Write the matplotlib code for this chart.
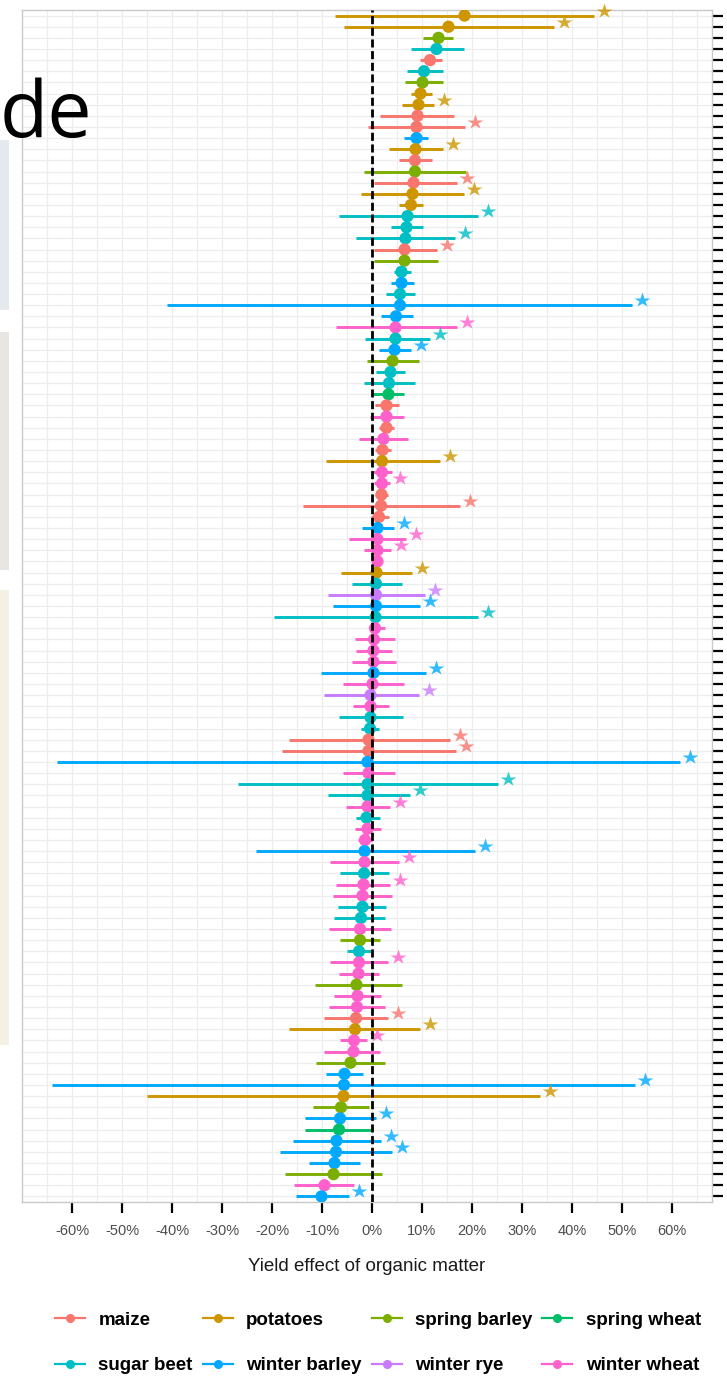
import matplotlib
matplotlib.use("Agg")
import matplotlib.pyplot as plt
from matplotlib.lines import Line2D
from matplotlib.patches import Rectangle
from matplotlib.transforms import offset_copy

plt.rcParams["font.family"] = ["Liberation Sans", "DejaVu Sans"]

# ---- data -------------------------------------------------------------
crops = ["maize", "potatoes", "spring barley", "spring wheat",
         "sugar beet", "winter barley", "winter rye", "winter wheat"]
crop_colors = ["#F8766D", "#CD9600", "#7CAE00", "#00BE67",
               "#00BFC4", "#00A9FF", "#C77CFF", "#FF61CC"]

# one entry per study, ordered from the largest to the smallest effect (%)
row_crop = [
    "potatoes", "potatoes", "spring barley", "sugar beet", "maize",
    "sugar beet", "spring barley", "potatoes", "potatoes", "maize",
    "maize", "winter barley", "potatoes", "maize", "spring barley",
    "maize", "potatoes", "potatoes", "sugar beet", "sugar beet",
    "sugar beet", "maize", "spring barley", "sugar beet", "winter barley",
    "sugar beet", "winter barley", "winter barley", "winter wheat", "sugar beet",
    "winter barley", "spring barley", "sugar beet", "sugar beet", "spring wheat",
    "maize", "winter wheat", "maize", "winter wheat", "maize",
    "potatoes", "winter wheat", "winter wheat", "maize", "maize",
    "maize", "winter barley", "winter wheat", "winter wheat", "winter wheat",
    "potatoes", "sugar beet", "winter rye", "winter barley", "sugar beet",
    "winter wheat", "winter wheat", "winter wheat", "winter wheat", "winter barley",
    "winter wheat", "winter rye", "winter wheat", "sugar beet", "sugar beet",
    "maize", "maize", "winter barley", "winter wheat", "sugar beet",
    "sugar beet", "winter wheat", "sugar beet", "winter wheat", "winter wheat",
    "winter barley", "winter wheat", "sugar beet", "winter wheat", "winter wheat",
    "sugar beet", "sugar beet", "winter wheat", "spring barley", "sugar beet",
    "winter wheat", "winter wheat", "spring barley", "winter wheat", "winter wheat",
    "maize", "potatoes", "winter wheat", "winter wheat", "spring barley",
    "winter barley", "winter barley", "potatoes", "spring barley", "winter barley",
    "spring wheat", "winter barley", "winter barley", "winter barley", "spring barley",
    "winter wheat", "winter barley",
]
effect = [
    18.5, 15.3, 13.3, 12.9, 11.6, 10.4, 10.1, 9.7, 9.3, 9.1,
    8.9, 8.9, 8.7, 8.6, 8.6, 8.3, 8.1, 7.8, 7.1, 6.9,
    6.7, 6.5, 6.5, 5.9, 5.9, 5.6, 5.6, 4.8, 4.7, 4.7,
    4.5, 4.1, 3.7, 3.4, 3.3, 2.9, 2.9, 2.9, 2.3, 2.1,
    2.0, 2.0, 2.0, 1.9, 1.8, 1.4, 1.1, 1.1, 1.1, 1.1,
    0.9, 0.8, 0.8, 0.8, 0.7, 0.6, 0.4, 0.3, 0.3, 0.3,
    0.1, -0.3, -0.3, -0.3, -0.4, -0.7, -0.7, -0.9, -0.7, -0.9,
    -0.9, -0.9, -1.1, -0.9, -1.4, -1.5, -1.5, -1.6, -1.7, -1.9,
    -1.9, -2.2, -2.4, -2.4, -2.6, -2.6, -2.7, -3.1, -2.9, -3.0,
    -3.2, -3.4, -3.6, -3.7, -4.3, -5.5, -5.6, -5.7, -6.2, -6.4,
    -6.6, -7.1, -7.2, -7.5, -7.7, -9.5, -10.1,
]
ci_low = [
    -7.4, -5.7, 10.1, 7.8, 9.5, 6.9, 6.6, 7.8, 5.9, 1.6,
    -0.9, 6.4, 3.3, 5.3, -1.7, 0.3, -2.3, 5.3, -6.7, 3.7,
    -3.3, 0.3, 0.3, 4.3, 3.8, 2.8, -41.0, 1.8, -7.2, -1.4,
    1.3, -1.1, 0.8, -1.7, 0.1, 0.5, -0.4, 1.3, -2.6, 0.6,
    -9.2, -0.1, 0.3, 0.6, -13.9, -0.2, -2.1, -4.7, -1.6, 0.3,
    -6.2, -4.1, -8.9, -7.9, -19.7, -0.3, -3.4, -3.2, -4.0, -10.3,
    -5.9, -9.6, -3.9, -6.7, -2.2, -16.6, -18.1, -63.0, -5.9, -26.8,
    -8.9, -5.2, -3.3, -3.5, -2.9, -23.2, -8.4, -6.4, -7.3, -7.9,
    -6.9, -7.6, -8.7, -6.4, -5.1, -8.4, -6.7, -11.5, -7.7, -8.6,
    -9.6, -16.7, -6.5, -9.6, -11.2, -9.2, -64.0, -45.0, -11.9, -13.4,
    -13.4, -15.9, -18.4, -12.7, -17.5, -15.7, -15.3,
]
ci_high = [
    44.3, 36.3, 16.1, 18.3, 13.9, 14.1, 14.1, 11.9, 12.3, 16.4,
    18.6, 11.1, 14.1, 11.9, 18.8, 16.9, 18.4, 10.1, 21.1, 10.1,
    16.6, 12.9, 13.1, 7.8, 8.3, 8.5, 51.9, 8.1, 16.9, 11.5,
    7.7, 9.3, 6.6, 8.6, 6.4, 5.4, 6.4, 4.4, 7.1, 3.7,
    13.5, 3.9, 3.6, 3.2, 17.6, 3.3, 4.4, 6.8, 3.7, 1.9,
    7.9, 5.9, 10.6, 9.6, 21.1, 2.6, 4.5, 3.9, 4.7, 10.8,
    6.4, 9.3, 3.3, 6.1, 1.3, 15.5, 16.8, 61.6, 4.5, 25.1,
    7.5, 3.6, 1.5, 1.8, -0.1, 20.5, 5.4, 3.3, 3.6, 3.9,
    2.8, 2.6, 3.7, 1.5, -0.3, 3.1, 1.3, 5.9, 1.7, 2.6,
    3.1, 9.6, -1.1, 1.6, 2.6, -1.9, 52.6, 33.5, -0.7, 0.8,
    0.1, 1.7, 3.9, -2.4, 1.9, -3.7, -4.7,
]
significant = [
    1, 1, 0, 0, 0, 0, 0, 0, 1, 0,
    1, 0, 1, 0, 0, 1, 1, 0, 1, 0,
    1, 1, 0, 0, 0, 0, 1, 0, 1, 1,
    1, 0, 0, 0, 0, 0, 0, 0, 0, 0,
    1, 0, 1, 0, 1, 0, 1, 1, 1, 0,
    1, 0, 1, 1, 1, 0, 0, 0, 0, 1,
    0, 1, 0, 0, 0, 1, 1, 1, 0, 1,
    1, 1, 0, 0, 0, 1, 1, 0, 1, 0,
    0, 0, 0, 0, 0, 1, 0, 0, 0, 0,
    1, 1, 1, 0, 0, 0, 1, 1, 0, 1,
    0, 1, 1, 0, 0, 0, 1,
]
x_ticks = [-60, -50, -40, -30, -20, -10, 0, 10, 20, 30, 40, 50, 60]
x_label = "Yield effect of organic matter"

# ---- figure ------------------------------------------------------------
W, H = 727, 1382
fig = plt.figure(figsize=(W / 100, H / 100), dpi=100)
fig.patch.set_facecolor("white")

# slide fragments on the left margin
for y0, y1, col in [(140, 310, "#E3E9EC"), (332, 570, "#E9E5E3"),
                    (590, 1045, "#F4F0E3")]:
    fig.add_artist(Rectangle((0, 1 - y1 / H), 9 / W, (y1 - y0) / H,
                             transform=fig.transFigure, facecolor=col,
                             edgecolor="none", zorder=0))
fig.text(0.0, 1 - 137 / H, "de", fontsize=57, family=["Open Sans", "DejaVu Sans"],
         color="black", ha="left", va="baseline")

ax = fig.add_axes([22 / W, 180 / H, 690 / W, 1192 / H])
n = len(effect)
rows = list(range(n))
color_of = dict(zip(crops, crop_colors))
cols = [color_of[c] for c in row_crop]

ax.set_xlim(-70, 68)
ax.set_ylim(n - 0.5, -0.5)

# grid
ax.set_xticks(x_ticks)
ax.set_xticks([v + 5 for v in x_ticks[:-1]] + [-65, 65], minor=True)
ax.set_xticklabels([f"{v}%" for v in x_ticks])
ax.set_yticks(rows)
ax.set_yticklabels([])
ax.yaxis.tick_right()
ax.grid(True, which="both", axis="x", color="#EDEDED", lw=0.9)
ax.grid(True, which="major", axis="y", color="#EDEDED", lw=0.9)
ax.set_axisbelow(True)

for s in ax.spines.values():
    s.set_color("#C9C9C9")
    s.set_linewidth(1.0)

ax.tick_params(axis="x", which="major", direction="out", length=8, width=1.6,
               color="black", labelsize=10.5, labelcolor="#4D4D4D", pad=8)
ax.tick_params(axis="x", which="minor", length=0)
ax.tick_params(axis="y", which="major", direction="out", length=8, width=1.6,
               color="black", right=True, left=False)
ax.set_xlabel(x_label, fontsize=13.5, color="#1A1A1A", labelpad=14)

# intervals and estimates
ax.hlines(rows, ci_low, ci_high, colors=cols, lw=2.1, zorder=2)
ax.scatter(effect, rows, s=78, c=cols, edgecolors="none", zorder=3)

# significance stars just right of the interval end
star_tr = offset_copy(ax.transData, fig=fig, x=10, y=5, units="dots")
for r, hi, c, sig in zip(rows, ci_high, cols, significant):
    if sig:
        ax.plot(hi, r, marker="*", ms=11.5, color=c, alpha=0.8,
                mec="none", transform=star_tr, zorder=3, clip_on=False)

# reference line at zero
ax.axvline(0, color="black", lw=2.0, dashes=(2.9, 1.3), zorder=4)

# legend
order = [0, 4, 1, 5, 2, 6, 3, 7]
handles = [Line2D([0], [0], color=crop_colors[i], lw=1.6, marker="o", ms=5.5)
           for i in order]
labels = [crops[i] for i in order]
fig.legend(handles, labels, ncol=4, loc="center",
           bbox_to_anchor=(378 / W, 1 - 1343 / H), frameon=False,
           prop={"weight": "bold", "size": 13.5}, handlelength=1.6,
           handletextpad=0.7, columnspacing=0.55, labelspacing=1.5)

fig.savefig("out.png", dpi=100)
